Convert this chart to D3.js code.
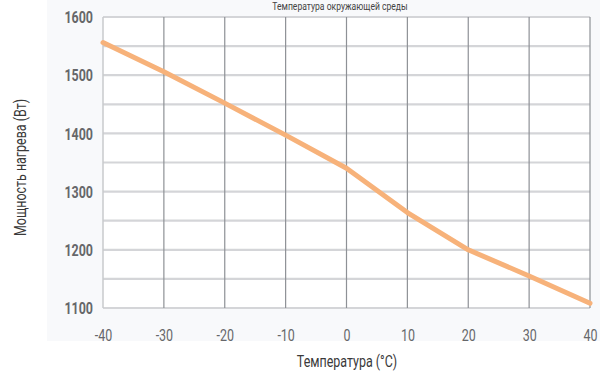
<!DOCTYPE html>
<html>
<head>
<meta charset="utf-8">
<script src="https://cdn.jsdelivr.net/npm/d3@7"></script>
<style>
  html, body { margin: 0; padding: 0; background: #ffffff; }
  svg { display: block; }
</style>
</head>
<body>
<svg id="chart" width="600" height="373"></svg>
<script>
const temperatures = [-40, -30, -20, -10, 0, 10, 20, 30, 40];
const power = [1556, 1506, 1452, 1397, 1340, 1264, 1200, 1155, 1108];
const xTickValues = [-40, -30, -20, -10, 0, 10, 20, 30, 40];
const yTickLabels = [1100, 1200, 1300, 1400, 1500, 1600];
const yGridValues = [1100, 1150, 1200, 1250, 1300, 1350, 1400, 1450, 1500, 1550, 1600];
const chartTitle = "Температура окружающей среды";
const xAxisTitle = "Температура (°C)";
const yAxisTitle = "Мощность нагрева (Вт)";

const svg = d3.select("#chart");
const W = 600;
const x = d3.scaleLinear().domain([-40, 40]).range([103, 590]);
const y = d3.scaleLinear().domain([1100, 1600]).range([308, 17]);

const font = "Roboto, 'Noto Sans', sans-serif";
const squeeze = 0.78;

// light panel background
svg.append("rect").attr("x", 47).attr("y", 0).attr("width", W - 47).attr("height", 341)
  .attr("fill", "#f8f9fb");
svg.append("rect").attr("x", x(-40)).attr("y", y(1600)).attr("width", x(40) - x(-40))
  .attr("height", y(1100) - y(1600)).attr("fill", "#ffffff");

// horizontal grid
svg.append("g").selectAll("line").data(yGridValues).join("line")
  .attr("x1", x(-40)).attr("x2", x(40))
  .attr("y1", d => y(d)).attr("y2", d => y(d))
  .attr("stroke", "#d4d5d8").attr("stroke-width", 2.2);

// vertical grid
svg.append("g").selectAll("line").data(xTickValues).join("line")
  .attr("x1", d => x(d)).attr("x2", d => x(d))
  .attr("y1", y(1600)).attr("y2", y(1100))
  .attr("stroke", d => (d === -40 ? "#c9cacd" : "#8e9196"))
  .attr("stroke-width", d => (d === -40 ? 1.5 : 1.2));

// axes (labels only)
const yAxis = d3.axisLeft(y).tickValues(yTickLabels).tickSize(0).tickPadding(0).tickFormat(d => String(d));
const gy = svg.append("g").attr("transform", `translate(${x(-40) - 10},0)`).call(yAxis);
gy.select(".domain").remove();
gy.selectAll("text").attr("font-family", font).attr("font-size", 16).attr("font-weight", "bold")
  .attr("fill", "#66676a").attr("dy", "0.35em").attr("transform", `scale(${squeeze},1)`);

const xAxis = d3.axisBottom(x).tickValues(xTickValues).tickSize(0).tickPadding(0).tickFormat(d => String(d));
const gx = svg.append("g").attr("transform", `translate(0,${y(1100) + 27})`).call(xAxis);
gx.select(".domain").remove();
gx.selectAll("text").attr("font-family", font).attr("font-size", 16)
  .attr("fill", "#66676a").attr("dy", "0.35em").attr("transform", `scale(${squeeze},1)`);

// line
const line = d3.line().x((d, i) => x(temperatures[i])).y(d => y(d));
svg.append("path").datum(power)
  .attr("d", line)
  .attr("fill", "none")
  .attr("stroke", "#f7b27a")
  .attr("stroke-width", 5)
  .attr("stroke-linecap", "round")
  .attr("stroke-linejoin", "round");

// titles
svg.append("g").attr("transform", "translate(340,10)")
  .append("text").attr("text-anchor", "middle").attr("transform", `scale(${squeeze},1)`)
  .attr("font-family", font).attr("font-size", 11).attr("fill", "#444")
  .text(chartTitle);
svg.append("g").attr("transform", "translate(347,367)")
  .append("text").attr("text-anchor", "middle").attr("transform", `scale(${squeeze},1)`)
  .attr("font-family", font).attr("font-size", 16).attr("fill", "#3a3a3a")
  .text(xAxisTitle);
svg.append("g").attr("transform", `translate(26,${(y(1100) + y(1600)) / 2 + 5}) rotate(-90)`)
  .append("text").attr("text-anchor", "middle").attr("transform", `scale(${squeeze},1)`)
  .attr("font-family", font).attr("font-size", 16).attr("fill", "#3a3a3a")
  .text(yAxisTitle);
</script>
</body>
</html>
